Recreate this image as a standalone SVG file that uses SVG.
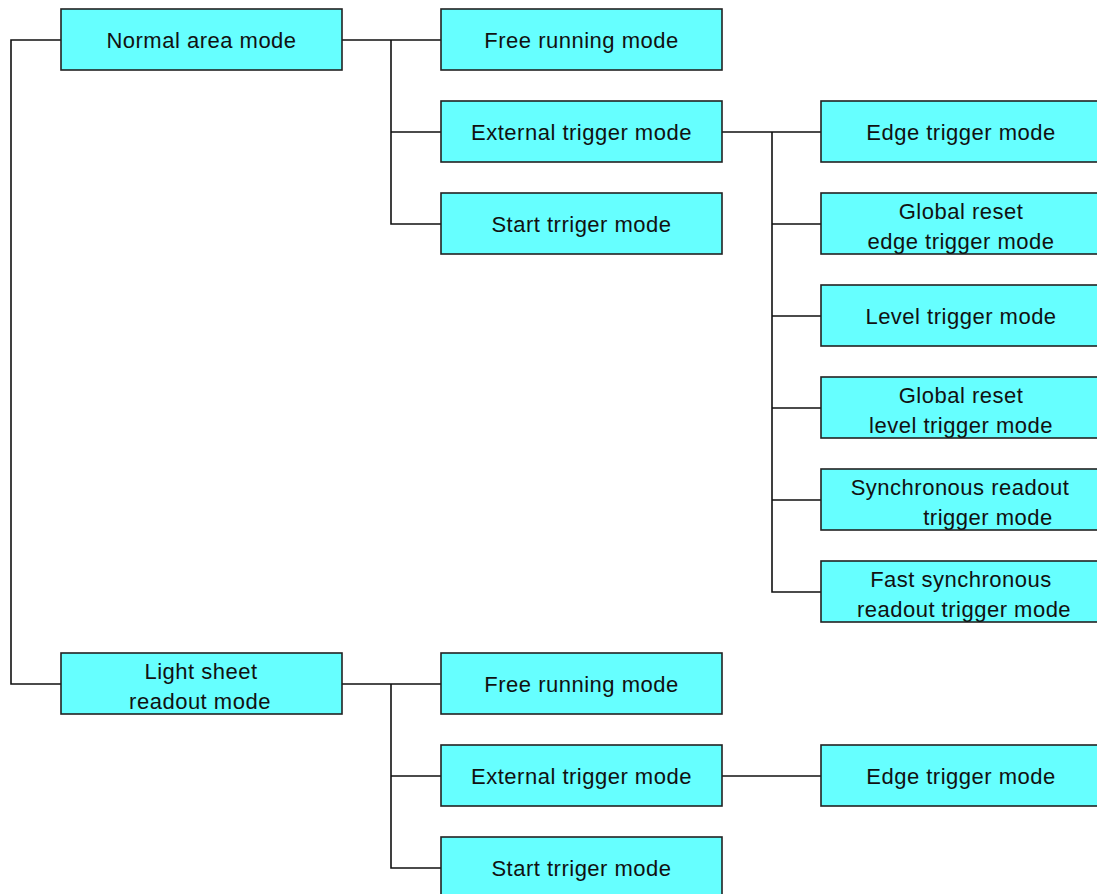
<svg xmlns="http://www.w3.org/2000/svg" width="1097" height="894" viewBox="0 0 1097 894">
<style>
.box{fill:#66FFFF;stroke:#222;stroke-width:1.6}
.t{font-family:"Liberation Sans",Arial,sans-serif;font-size:22px;fill:#111;text-anchor:middle;letter-spacing:0.5px}
.c{fill:none;stroke:#111;stroke-width:1.6}
</style>
<rect width="1097" height="894" fill="#fff"/>
<g id="connectors">
<path class="c" d="M61,40H11V684H61"/>
<path class="c" d="M342,40H441M391,40V224H441M391,132H441"/>
<path class="c" d="M722,132H821M772,132V592H821M772,224H821M772,316H821M772,408H821M772,500H821"/>
<path class="c" d="M342,684H441M391,684V868H441M391,776H441"/>
<path class="c" d="M722,776H821"/>
</g>
<g id="n-normal"><rect class="box" x="61" y="9" width="281" height="61"/><text class="t" x="201.5" y="48">Normal area mode</text></g>
<g id="n-free1"><rect class="box" x="441" y="9" width="281" height="61"/><text class="t" x="581.5" y="48">Free running mode</text></g>
<g id="n-ext1"><rect class="box" x="441" y="101" width="281" height="61"/><text class="t" x="581.5" y="140">External trigger mode</text></g>
<g id="n-start1"><rect class="box" x="441" y="193" width="281" height="61"/><text class="t" x="581.5" y="232">Start trriger mode</text></g>
<g id="n-edge1"><rect class="box" x="821" y="101" width="281" height="61"/><text class="t" x="961" y="140">Edge trigger mode</text></g>
<g id="n-gredge"><rect class="box" x="821" y="193" width="281" height="61"/><text class="t" x="961" y="218.5">Global reset</text><text class="t" x="961" y="248.5">edge trigger mode</text></g>
<g id="n-level"><rect class="box" x="821" y="285" width="281" height="61"/><text class="t" x="961" y="324">Level trigger mode</text></g>
<g id="n-grlevel"><rect class="box" x="821" y="377" width="281" height="61"/><text class="t" x="961" y="402.5">Global reset</text><text class="t" x="961" y="432.5">level trigger mode</text></g>
<g id="n-sync"><rect class="box" x="821" y="469" width="281" height="61"/><text class="t" x="960" y="494.5">Synchronous readout</text><text class="t" x="988" y="524.5">trigger mode</text></g>
<g id="n-fastsync"><rect class="box" x="821" y="561" width="281" height="61"/><text class="t" x="961" y="586.5">Fast synchronous</text><text class="t" x="964" y="616.5">readout trigger mode</text></g>
<g id="n-light"><rect class="box" x="61" y="653" width="281" height="61"/><text class="t" x="201" y="678.5">Light sheet</text><text class="t" x="200" y="708.5">readout mode</text></g>
<g id="n-free2"><rect class="box" x="441" y="653" width="281" height="61"/><text class="t" x="581.5" y="692">Free running mode</text></g>
<g id="n-ext2"><rect class="box" x="441" y="745" width="281" height="61"/><text class="t" x="581.5" y="784">External trigger mode</text></g>
<g id="n-start2"><rect class="box" x="441" y="837" width="281" height="61"/><text class="t" x="581.5" y="876">Start trriger mode</text></g>
<g id="n-edge2"><rect class="box" x="821" y="745" width="281" height="61"/><text class="t" x="961" y="784">Edge trigger mode</text></g>
</svg>
